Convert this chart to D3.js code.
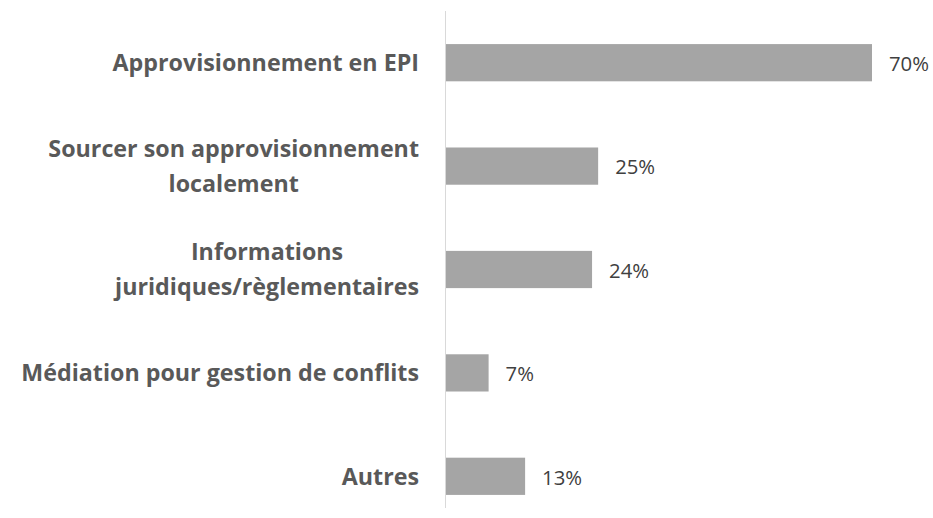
<!DOCTYPE html>
<html>
<head>
<meta charset="utf-8">
<script src="https://cdn.jsdelivr.net/npm/d3@7"></script>
<style>
  body { margin: 0; background: #fff; }
  svg { display: block; }
</style>
</head>
<body>
<script>
// chart data
var categories = [
    "Approvisionnement en EPI",
    "Sourcer son approvisionnement\nlocalement",
    "Informations\njuridiques/règlementaires",
    "Médiation pour gestion de conflits",
    "Autres"
];
var values = [0.70, 0.25, 0.24, 0.07, 0.13];

var width = 933, height = 518;
var fontFam = "'Open Sans', 'Noto Sans', sans-serif";

var svg = d3.select("body")
    .append("svg")
    .attr("width", width)
    .attr("height", height);

// scales
var x = d3.scaleLinear()
    .domain([0, 0.70])
    .range([446, 872]);

var y = d3.scaleBand()
    .domain(categories)
    .range([11, 528])
    .paddingInner(0.64)
    .paddingOuter(0.32);

// work out font sizes so widths match the original (Calibri) text
function measure(str, weight, size) {
    var t = svg.append("text")
        .attr("font-family", fontFam)
        .attr("font-weight", weight)
        .attr("font-size", size)
        .text(str);
    var w = t.node().getComputedTextLength();
    t.remove();
    return w;
}
var labelSize = 20 * 398 / measure("Médiation pour gestion de conflits", "bold", 20);
var valueSize = 20 * 40 / measure("13%", "normal", 20);

// bars
svg.selectAll(".bar")
    .data(values)
    .enter()
    .append("rect")
    .attr("class", "bar")
    .attr("x", x(0))
    .attr("y", function(d, i) { return y(categories[i]); })
    .attr("width", function(d) { return x(d) - x(0); })
    .attr("height", y.bandwidth())
    .attr("fill", "#a5a5a5");

// vertical axis line
svg.append("line")
    .attr("x1", 445.5).attr("x2", 445.5)
    .attr("y1", 11).attr("y2", 508)
    .attr("stroke", "#d9d9d9")
    .attr("stroke-width", 1);

var lineH = 34.5, capHalf = 8.2;
var labelRight = 419;

// category labels (wrapped ones are centred, single lines right-aligned)
categories.forEach(function(c, i) {
    var lines = c.split("\n");
    var cy = y(c) + y.bandwidth() / 2;
    var g = svg.append("g");
    var texts = lines.map(function(l, j) {
        return g.append("text")
            .attr("y", cy + capHalf + (j - (lines.length - 1) / 2) * lineH)
            .attr("font-family", fontFam)
            .attr("font-weight", "bold")
            .attr("font-size", labelSize)
            .attr("fill", "#595959")
            .text(l);
    });
    if (lines.length == 1) {
        texts[0].attr("x", labelRight).attr("text-anchor", "end");
    } else {
        var maxW = d3.max(texts, function(t) { return t.node().getComputedTextLength(); });
        texts.forEach(function(t) {
            t.attr("x", labelRight - maxW / 2).attr("text-anchor", "middle");
        });
    }
});

// value labels
svg.selectAll(".value")
    .data(values)
    .enter()
    .append("text")
    .attr("class", "value")
    .attr("x", function(d) { return x(d) + 17; })
    .attr("y", function(d, i) { return y(categories[i]) + y.bandwidth() / 2 + capHalf; })
    .attr("font-family", fontFam)
    .attr("font-size", valueSize)
    .attr("fill", "#404040")
    .text(function(d) { return Math.round(d * 100) + "%"; });
</script>
</body>
</html>
